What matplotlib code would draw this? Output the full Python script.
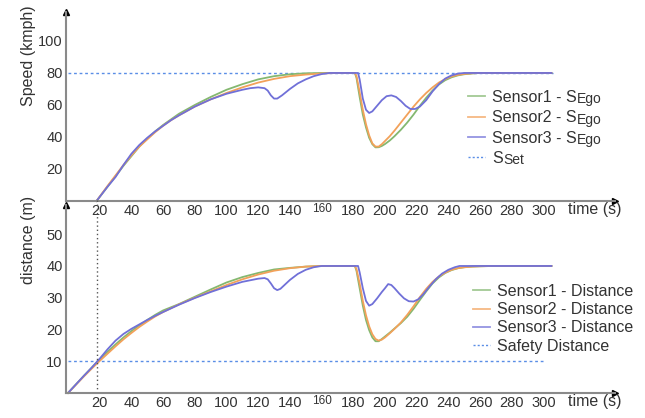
import matplotlib
matplotlib.use("Agg")
import matplotlib.pyplot as plt
from matplotlib.lines import Line2D
from matplotlib.transforms import blended_transform_factory

plt.rcParams['font.family'] = ['Liberation Sans', 'DejaVu Sans']

# ---------------- data ----------------
speed_t1 = [18, 25, 30, 35, 40, 45, 50, 55, 60, 65, 70, 80, 90, 100, 110, 120, 130, 140, 150, 160, 170, 180,
            181, 182, 184, 186, 188, 190, 192, 194, 196, 198, 200, 203, 206, 210, 214, 218, 222, 226, 230, 234,
            238, 242, 246, 250, 255, 260, 270, 305]
speed_s1 = [0, 9, 15.5, 22, 28, 34, 39, 43.5, 47.5, 51, 54.5, 60, 65, 69.5, 73, 76, 78, 79.2, 79.8, 80, 80, 80,
            80, 77, 65, 54, 46, 39.5, 35.5, 33.5, 33.6, 34.4, 35.6, 37.8, 40.5, 44.5, 49, 54, 59.5, 64.5, 69, 72.8,
            75.5, 77.3, 78.5, 79.2, 79.7, 80, 80, 80]
speed_t2 = speed_t1
speed_s2 = [0, 9.5, 16, 22.5, 28.5, 34, 38.5, 43, 47, 50.5, 53.5, 59, 63.5, 67.5, 71, 74, 76.3, 78, 79, 79.7, 80, 80,
            80, 78, 68, 57, 48, 41, 36, 34, 34, 35.5, 37.5, 40.5, 44, 49, 54, 59, 63.5, 67.5, 71, 74,
            76.2, 77.8, 78.8, 79.4, 79.8, 80, 80, 80]
speed_t3 = [18, 25, 30, 35, 40, 45, 50, 55, 60, 65, 70, 80, 90, 100, 110, 115, 120, 124, 126, 128, 130, 132, 135,
            140, 145, 150, 155, 160, 165, 180, 183, 184, 186, 188, 190, 192, 195, 198, 201, 204, 207, 210, 213,
            216, 219, 222, 226, 230, 234, 238, 242, 246, 250, 305]
speed_s3 = [0, 9, 15, 22.5, 29.5, 35, 39.5, 43.5, 47, 50.5, 53.5, 59, 63.5, 67, 69.5, 70.5, 71, 70.5, 69, 66, 64,
            64, 66, 70, 73.5, 76, 78, 79.3, 80, 80, 80, 76, 64, 57, 55, 56, 59.5, 63, 65.5, 66, 65, 62.5, 59.5,
            57.5, 57.5, 59, 63, 68.5, 73, 76.5, 78.5, 79.6, 80, 80]

dist_t1 = [0, 5, 10, 15, 20, 25, 30, 35, 40, 45, 50, 55, 60, 70, 80, 90, 100, 110, 120, 130, 140, 150, 160, 181,
           182, 184, 186, 188, 190, 192, 194, 196, 198, 200, 203, 206, 210, 214, 218, 222, 226, 230, 234, 238,
           242, 246, 250, 255, 260, 268, 305]
dist_d1 = [0, 2.7, 5.4, 8, 10.6, 13, 15.3, 17.5, 19.5, 21.3, 23, 24.6, 26, 28, 30.3, 32.6, 34.8, 36.5, 37.8, 38.9,
           39.4, 39.8, 40, 40, 38.5, 33, 27.5, 23, 19.8, 17.5, 16.3, 16.3, 17, 17.8, 19, 20.3, 22, 24, 26.5,
           29.3, 32, 34.5, 36.4, 37.8, 38.7, 39.3, 39.6, 39.8, 39.9, 40, 40]
dist_t2 = dist_t1
dist_d2 = [0, 2.6, 5.2, 7.7, 10.1, 12.4, 14.7, 16.9, 18.9, 20.8, 22.5, 24.1, 25.5, 27.9, 30, 32, 34, 35.8, 37.3,
           38.5, 39.3, 39.8, 40, 40, 39, 34.5, 29, 24.5, 21, 18.5, 17, 16.5, 16.8, 17.5, 18.8, 20.2, 22.2, 24.6,
           27.3, 30.2, 32.8, 35, 36.7, 37.9, 38.8, 39.3, 39.6, 39.8, 39.9, 40, 40]
dist_t3 = [0, 5, 10, 15, 20, 25, 30, 35, 40, 45, 50, 55, 60, 70, 80, 90, 100, 110, 120, 124, 126, 128, 130, 132,
           134, 137, 140, 145, 150, 155, 160, 183, 184, 186, 188, 190, 192, 195, 198, 200, 202, 204, 206, 209,
           212, 215, 218, 221, 224, 228, 232, 236, 240, 244, 247, 305]
dist_d3 = [0, 2.7, 5.4, 8, 10.8, 13.8, 16.5, 18.6, 20.2, 21.6, 23, 24.3, 25.5, 27.8, 29.9, 31.8, 33.5, 35, 36,
           36.2, 35.8, 34.5, 33, 32.4, 32.8, 34.2, 35.6, 37.5, 38.8, 39.6, 40, 40, 38, 33, 29, 27.5, 28, 29.8,
           31.8, 33, 34.3, 34, 33, 31.3, 29.8, 28.9, 28.8, 29.5, 31, 33.5, 35.8, 37.6, 38.8, 39.6, 40, 40]

set_speed = 80
set_span = [0, 306]
safety_distance = 10
safety_span = [0, 301]
marker_time = 18

speed_main = ["Sensor1 - S", "Sensor2 - S", "Sensor3 - S", "S"]
speed_sub = ["Ego", "Ego", "Ego", "Set"]
dist_labels = ["Sensor1 - Distance", "Sensor2 - Distance", "Sensor3 - Distance", "Safety Distance"]
x_ticks = [20, 40, 60, 80, 100, 120, 140, 160, 180, 200, 220, 240, 260, 280, 300]
speed_ticks = [20, 40, 60, 80, 100]
dist_ticks = [10, 20, 30, 40, 50]

# ---------------- style ----------------
W, H = 645, 418
C1, C2, C3 = '#84b870', '#f2a15a', '#7070d8'
CDOT = '#5a8ee6'
TXT = '#333333'
AX = '#8a8a8a'

fig = plt.figure(figsize=(W / 100, H / 100), dpi=100)

def px_axes(left, top, right, bottom):
    return fig.add_axes([left / W, 1 - bottom / H, (right - left) / W, (bottom - top) / H])

ax1 = px_axes(66, 12, 615, 201)
ax2 = px_axes(66, 205, 615, 393)

xlim = (-1.26, 345.1)

def style(ax, ylim, yticks):
    ax.set_xlim(*xlim)
    ax.set_ylim(*ylim)
    ax.patch.set_visible(False)
    for s in ['top', 'right']:
        ax.spines[s].set_visible(False)
    for s in ['left', 'bottom']:
        ax.spines[s].set_color(AX)
        ax.spines[s].set_linewidth(1.5)
    ax.set_xticks(x_ticks)
    ax.set_xticklabels([('' if v == 160 else str(v)) for v in x_ticks])
    ax.set_yticks(yticks)
    ax.tick_params(length=0, labelsize=10.5, labelcolor=TXT, pad=2.5)
    ax.plot(1, 0, marker='>', color='black', markersize=4, transform=ax.transAxes, clip_on=False)
    ax.plot(0, 1, marker='^', color='black', markersize=4, transform=ax.transAxes, clip_on=False)
    tr = blended_transform_factory(ax.transData, ax.transAxes)
    ax.annotate('160', xy=(160, 0), xycoords=tr, xytext=(0, -1.2), textcoords='offset points',
                fontsize=8.5, color=TXT, ha='center', va='top')
    ax.text((568 - 66) / 549, -0.005, 'time (s)', transform=ax.transAxes, fontsize=11.5, color=TXT,
            ha='left', va='top')

style(ax1, (0, 118.1), speed_ticks)
style(ax2, (0, 59.2), dist_ticks)

lw = 1.3
ax1.plot(set_span, [set_speed, set_speed], color=CDOT, lw=1.0, ls=(0, (2, 2)), zorder=1)
ax1.plot(speed_t1, speed_s1, color=C1, lw=lw, clip_on=False)
ax1.plot(speed_t2, speed_s2, color=C2, lw=lw, clip_on=False)
ax1.plot(speed_t3, speed_s3, color=C3, lw=lw, clip_on=False)

ax2.plot(safety_span, [safety_distance, safety_distance], color=CDOT, lw=1.0, ls=(0, (2, 2)), zorder=1)
ax2.plot(dist_t1, dist_d1, color=C1, lw=lw, clip_on=False)
ax2.plot(dist_t2, dist_d2, color=C2, lw=lw, clip_on=False)
ax2.plot(dist_t3, dist_d3, color=C3, lw=lw, clip_on=False)
ax2.plot([marker_time, marker_time], [0, 60.8], color='#555555', lw=1.0, ls=(0, (1, 2)), clip_on=False)

# legends
def handles():
    return [Line2D([], [], color=C1, lw=1.3, alpha=0.75),
            Line2D([], [], color=C2, lw=1.3, alpha=0.75),
            Line2D([], [], color=C3, lw=1.3, alpha=0.75),
            Line2D([], [], color=CDOT, lw=1.0, ls=(0, (1.5, 1.5)))]

leg1 = fig.legend(handles(), speed_main, loc='upper left',
                  bbox_to_anchor=(468 / W, 1 - 90 / H), frameon=False, fontsize=11.5,
                  handlelength=1.05, handletextpad=0.45, labelspacing=0.33, borderpad=0,
                  borderaxespad=0, labelcolor=TXT)
leg2 = fig.legend(handles(), dist_labels, loc='upper left',
                  bbox_to_anchor=(473 / W, 1 - 284 / H), frameon=False, fontsize=11.5,
                  handlelength=1.05, handletextpad=0.45, labelspacing=0.2, borderpad=0,
                  borderaxespad=0, labelcolor=TXT)

fig.text(28 / W, 1 - 56 / H, 'Speed (kmph)', rotation=90, ha='center', va='center',
         fontsize=11.5, color=TXT)
fig.text(28 / W, 1 - 240 / H, 'distance (m)', rotation=90, ha='center', va='center',
         fontsize=11.5, color=TXT)

# subscripts next to the legend texts
fig.canvas.draw()
renderer = fig.canvas.get_renderer()
for txt, sub in zip(leg1.get_texts(), speed_sub):
    bb = txt.get_window_extent(renderer)
    fig.text((bb.x1 + 0.5) / W, (bb.y0 - 1.5) / H, sub, fontsize=10, color=TXT,
             ha='left', va='bottom')

fig.savefig('out.png', dpi=100)
